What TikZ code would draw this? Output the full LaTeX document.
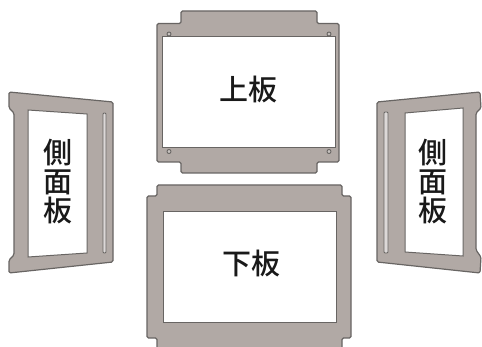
\documentclass[tikz,border=0pt]{standalone}
\usepackage{fontspec}
\newfontfamily\cjk{Noto Sans CJK JP Medium}
\definecolor{platefill}{HTML}{B1A9A5}
\definecolor{plateedge}{HTML}{686563}
\tikzset{
    plate/.style={draw=plateedge,fill=platefill,line width=1.2pt,rounded corners=1.5pt},
    window/.style={draw=plateedge,fill=white,line width=1pt},
    slot/.style={draw=plateedge,fill=white!55!platefill,line width=0.9pt,rounded corners=1pt},
    hole/.style={draw=plateedge,fill=platefill!70!white,line width=0.9pt},
    partlabel/.style={font=\cjk\fontsize{29}{29}\selectfont,text=black!90,inner sep=0pt,align=center}
}
\begin{document}
\begin{tikzpicture}[x=1pt,y=-1pt]
        \clip (0,0) rectangle (482,347);
        \fill[white] (0,0) rectangle (482,347);
        % top plate
        \draw[plate] (181,11) -- (317,11) -- (317,23.5) -- (339,23.5) -- (339,162)
            -- (317,162) -- (317,173) -- (181,173) -- (181,162) -- (157,162)
            -- (157,23.5) -- (181,23.5) -- cycle;
        \draw[window] (162,37) rectangle (335,148);
        \foreach \x in {169,329}
            \foreach \y in {34,151.5}
                \draw[hole] (\x,\y) circle (2);
        \node[partlabel] (upper) at (248,90) {上板};
        % bottom plate
        \draw[plate] (157,185) -- (342,185) -- (342,196) -- (351,196) -- (351,338)
            -- (342,338) -- (342,352) -- (157,352) -- (157,338) -- (147,338)
            -- (147,196) -- (157,196) -- cycle;
        \draw[window] (163,212) rectangle (336,323);
        \node[partlabel] (lower) at (251,264) {下板};
        % left side plate
        \draw[plate] (9,92) -- (113,102) -- (113,262) -- (9,273) -- (9,260)
            -- (14,255) -- (14,113) -- (9,108) -- cycle;
        \draw[window] (28,110) -- (87,114) -- (87,253) -- (28,257) -- cycle;
        \draw[slot] (103,113) rectangle (106,253);
        \node[partlabel] (sideL) at (58,182) {側\\面\\板};
        % right side plate
        \draw[plate] (480,92) -- (377,102) -- (377,262) -- (480,273) -- (481,257)
            -- (476,250) -- (476,113) -- (481,108) -- cycle;
        \draw[window] (463,108) -- (405,113) -- (405,252) -- (463,256) -- cycle;
        \draw[slot] (384,112) rectangle (388,253);
        \node[partlabel] (sideR) at (433,182) {側\\面\\板};
    \end{tikzpicture}
\end{document}
